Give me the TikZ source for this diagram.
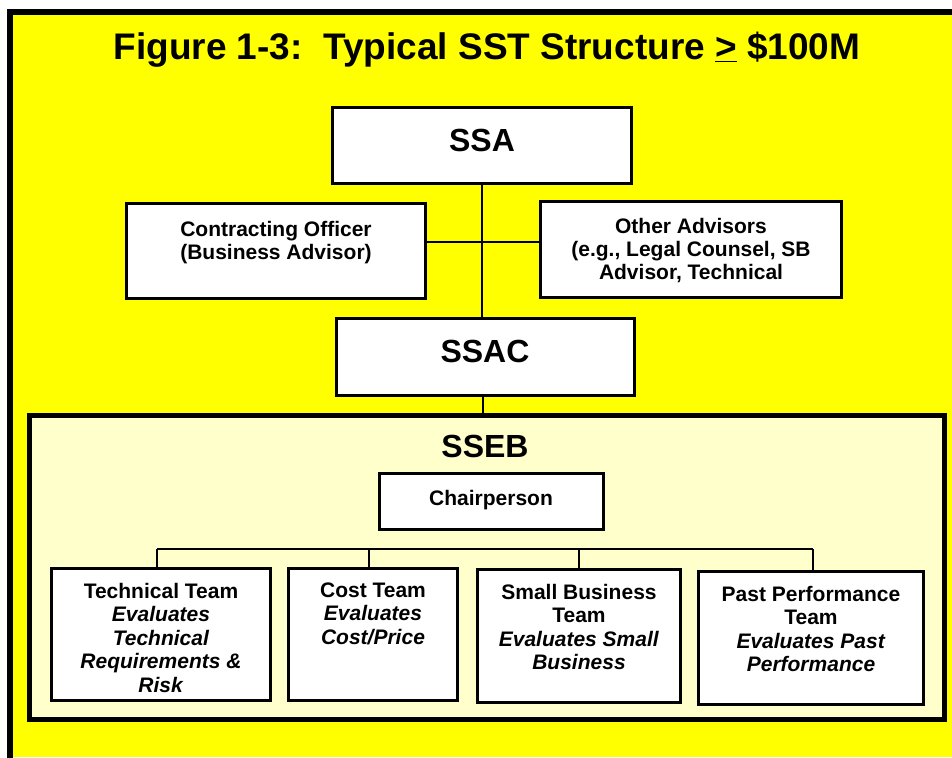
\documentclass[tikz,border=0pt]{standalone}
\usepackage{fontspec}
\setmainfont{Liberation Sans}
\definecolor{bgyel}{HTML}{FFFF00}
\definecolor{lightyel}{HTML}{FFFFCC}
\begin{document}
\begin{tikzpicture}[x=1pt,y=-1pt,
  box/.style={draw, line width=3pt, fill=white, inner sep=0pt, outer sep=0pt},
  txt/.style={font=\fontsize{21}{23}\selectfont\bfseries, align=center, inner sep=0pt},
  txtb/.style={font=\fontsize{21}{23.5}\selectfont\bfseries, align=center, inner sep=0pt},
  big/.style={font=\fontsize{32}{36}\selectfont\bfseries, inner sep=0pt},
  conn/.style={line width=1.5pt}]
\useasboundingbox (0,0) rectangle (952,757);
\fill[white] (0,0) rectangle (952,757);
\fill[bgyel] (10,12) rectangle (952,757);
\draw[line width=6pt, line join=miter] (10,760) -- (10,12) -- (955,12);
% title
\node[font=\fontsize{37}{40}\selectfont\bfseries, inner sep=0pt, anchor=base] (title) at (487,60)
  {Figure 1-3:\ \ Typical SST Structure \underline{>} \$100M};
% upper boxes
\node[box, minimum width=299pt, minimum height=76pt] (ssa) at (482,145.5) {};
\node[big, anchor=base] (ssat) at (482,151) {SSA};
\node[box, minimum width=299pt, minimum height=95pt] (co) at (276,251) {};
\node[txt, anchor=north] (cot) at (276,220.6) {Contracting Officer\\(Business Advisor)};
\node[box, minimum width=301pt, minimum height=96pt] (oa) at (691,249.5) {};
\node[txt, anchor=north] (oat) at (691,217.6) {Other Advisors\\(e.g., Legal Counsel, SB\\Advisor, Technical};
\node[box, minimum width=298pt, minimum height=77pt] (ssac) at (485.5,357) {};
\node[big, anchor=base] (ssact) at (485,362) {SSAC};
% connectors upper
\coordinate (hz) at (482,242);
\draw[conn] (ssa.south) -- (ssa.south |- ssac.north);
\draw[conn] (co.east |- hz) -- (oa.west |- hz);
% SSEB container
\node[draw, line width=4.5pt, fill=lightyel, inner sep=0pt, minimum width=915pt, minimum height=304pt] (sseb) at (487,567.5) {};
\draw[conn] (ssac.south -| 483,0) -- (sseb.north -| 483,0);
\node[big, anchor=base] (ssebt) at (485,457) {SSEB};
\node[box, minimum width=224pt, minimum height=56pt] (chair) at (491.5,501.5) {};
\node[txt, anchor=base] (chairt) at (491,505) {Chairperson};
% bottom boxes
\node[box, minimum width=219pt, minimum height=132pt] (tech) at (161,634.5) {};
\node[txtb, anchor=north] (techt) at (161,582.6) {Technical Team\\\textit{Evaluates}\\\textit{Technical}\\\textit{Requirements \&}\\\textit{Risk}};
\node[box, minimum width=169pt, minimum height=132pt] (cost) at (373,634.5) {};
\node[txtb, anchor=north] (costt) at (373,582.6) {Cost Team\\\textit{Evaluates}\\\textit{Cost/Price}};
\node[box, minimum width=203pt, minimum height=133pt] (sb) at (579,636) {};
\node[txtb, anchor=north] (sbt) at (579,583.6) {Small Business\\Team\\\textit{Evaluates Small}\\\textit{Business}};
\node[box, minimum width=225pt, minimum height=133pt] (pp) at (811,638) {};
\node[txtb, anchor=north] (ppt) at (811,585.6) {Past Performance\\Team\\\textit{Evaluates Past}\\\textit{Performance}};
% bus
\coordinate (b1) at (157,549);
\coordinate (b2) at (369,549);
\coordinate (b3) at (579,549);
\coordinate (b4) at (813,549);
\draw[conn] (b1) -- (b4);
\draw[conn] (b1) -- (b1 |- tech.north);
\draw[conn] (b2) -- (b2 |- cost.north);
\draw[conn] (b3) -- (b3 |- sb.north);
\draw[conn] (b4) -- (b4 |- pp.north);
\end{tikzpicture}
\end{document}
